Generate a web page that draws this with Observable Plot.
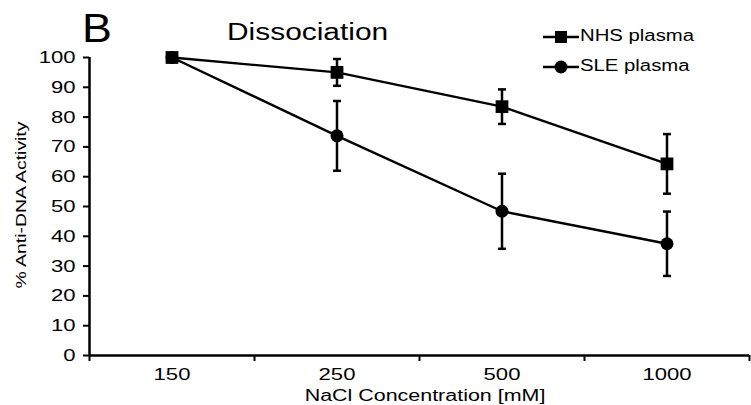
<!DOCTYPE html>
<html>
<head>
<meta charset="utf-8">
<script src="https://cdn.jsdelivr.net/npm/d3@7"></script>
<script src="https://cdn.jsdelivr.net/npm/@observablehq/plot@0.6"></script>
<style>
  html, body { margin: 0; padding: 0; background: #fff; }
  #wrap { position: relative; width: 751px; height: 405px; font-family: "Liberation Sans", Arial, sans-serif; color: #000; overflow: hidden; }
  #wrap svg { display: block; }
  .ov { position: absolute; white-space: nowrap; line-height: 1; }
</style>
</head>
<body>
<div id="wrap"></div>
<script>
const concentrations = ["150", "250", "500", "1000"];
const nhsMean = [100, 95, 83.5, 64.3];
const nhsErr  = [0, 4.5, 5.8, 10];
const sleMean = [100, 73.7, 48.4, 37.5];
const sleErr  = [0, 11.7, 12.6, 10.8];
const yTicks = [0, 10, 20, 30, 40, 50, 60, 70, 80, 90, 100];
const seriesNames = ["NHS plasma", "SLE plasma"];

const rows = [];
concentrations.forEach((c, i) => {
  rows.push({series: seriesNames[0], x: i + 0.5, y: nhsMean[i], lo: nhsMean[i] - nhsErr[i], hi: nhsMean[i] + nhsErr[i], err: nhsErr[i]});
  rows.push({series: seriesNames[1], x: i + 0.5, y: sleMean[i], lo: sleMean[i] - sleErr[i], hi: sleMean[i] + sleErr[i], err: sleErr[i]});
});
const nhs = rows.filter(d => d.series === seriesNames[0]);
const sle = rows.filter(d => d.series === seriesNames[1]);
const withErr = rows.filter(d => d.err > 0);

const cap = {draw(ctx) { ctx.moveTo(-4, 0); ctx.lineTo(4, 0); }};

const chart = Plot.plot({
  width: 751,
  height: 405,
  marginLeft: 89,
  marginRight: 2,
  marginTop: 57,
  marginBottom: 50,
  style: {fontFamily: "Liberation Sans, Arial, sans-serif", fontSize: "17px", color: "#000", background: "#fff"},
  x: {type: "linear", domain: [0, concentrations.length]},
  y: {domain: [0, 100]},
  marks: [
    Plot.axisY({ticks: yTicks, tickSize: 6, tickPadding: 8, strokeWidth: 2, label: null, fill: "#000"}),
    Plot.axisX({ticks: d3.range(concentrations.length + 1), tickFormat: () => "", tickSize: 6, strokeWidth: 2, label: null}),
    Plot.axisX({ticks: concentrations.map((c, i) => i + 0.5), tickFormat: v => concentrations[Math.floor(v)], tickSize: 0, tickPadding: 12, label: null, fill: "#000"}),
    Plot.ruleY([0], {stroke: "#000", strokeWidth: 2.5}),
    Plot.ruleX([0], {stroke: "#000", strokeWidth: 2.5}),
    Plot.ruleX(withErr, {x: "x", y1: "lo", y2: "hi", stroke: "#000", strokeWidth: 2.5}),
    Plot.dot(withErr, {x: "x", y: "hi", symbol: cap, stroke: "#000", strokeWidth: 2.5, fill: "none"}),
    Plot.dot(withErr, {x: "x", y: "lo", symbol: cap, stroke: "#000", strokeWidth: 2.5, fill: "none"}),
    Plot.line(sle, {x: "x", y: "y", stroke: "#000", strokeWidth: 2.4}),
    Plot.line(nhs, {x: "x", y: "y", stroke: "#000", strokeWidth: 2.4}),
    Plot.dot(sle, {x: "x", y: "y", symbol: "circle", r: 6.5, fill: "#000", stroke: "none"}),
    Plot.dot(nhs, {x: "x", y: "y", symbol: "square", r: 7.2, fill: "#000", stroke: "none"})
  ]
});

// horizontally widen the tick labels (the reference typeface is stretched)
d3.select(chart).selectAll("text").each(function() {
  let x = parseFloat(this.getAttribute("x"));
  if (!isFinite(x)) x = 0;
  const t = this.getAttribute("transform") || "";
  this.setAttribute("transform", `${t} translate(${x},0) scale(1.3,1) translate(${-x},0)`.trim());
});

const wrap = document.getElementById("wrap");
wrap.appendChild(chart);

function addText(txt, css) {
  const d = document.createElement("div");
  d.className = "ov";
  d.textContent = txt;
  Object.assign(d.style, css);
  wrap.appendChild(d);
  return d;
}

addText("B", {left: "82px", top: "8px", fontSize: "40px", transform: "scaleX(1.12)", transformOrigin: "left center"});
addText("Dissociation", {left: "227px", top: "21px", fontSize: "23px", transform: "scaleX(1.3)", transformOrigin: "left center"});
addText("NaCl Concentration [mM]", {left: "425px", top: "388px", fontSize: "16px", transform: "translateX(-50%) scaleX(1.34)", transformOrigin: "center center"});
addText("% Anti-DNA Activity", {left: "21px", top: "205px", fontSize: "15.5px", transform: "translate(-50%, -50%) rotate(-90deg) scaleX(1.25)", transformOrigin: "center center"});

// legend
const legendItems = [
  {name: seriesNames[0], shape: "square", top: 37},
  {name: seriesNames[1], shape: "circle", top: 67}
];
legendItems.forEach(item => {
  const s = d3.create("svg").attr("width", 38).attr("height", 16)
    .style("position", "absolute").style("left", "542px").style("top", (item.top - 8) + "px");
  s.append("line").attr("x1", 1).attr("x2", 37).attr("y1", 8).attr("y2", 8).attr("stroke", "#000").attr("stroke-width", 2.4);
  if (item.shape === "square") s.append("rect").attr("x", 13).attr("y", 2).attr("width", 12).attr("height", 12).attr("fill", "#000");
  else s.append("circle").attr("cx", 19).attr("cy", 8).attr("r", 6.5).attr("fill", "#000");
  wrap.appendChild(s.node());
  addText(item.name, {left: "580px", top: (item.top - 9) + "px", fontSize: "16px", transform: "scaleX(1.27)", transformOrigin: "left center"});
});
</script>
</body>
</html>
